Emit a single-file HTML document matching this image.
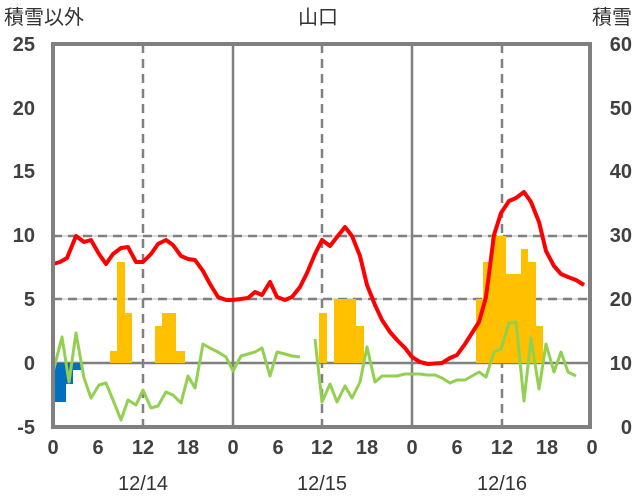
<!DOCTYPE html><html><head><meta charset="utf-8"><style>body{margin:0;background:#fff}svg{display:block}text{font-family:"Liberation Sans","Noto Sans CJK JP",sans-serif;fill:#333;font-size:20px}.n{font-weight:bold;fill:#404040}</style></head><body>
<svg width="636" height="501" xmlns="http://www.w3.org/2000/svg">
<rect width="636" height="501" fill="#fff"/>
<g stroke="#bbb" stroke-width="1"><line x1="53" y1="236" x2="590" y2="236"/><line x1="53" y1="299" x2="590" y2="299"/></g>
<g stroke="#808080" stroke-width="2.5" stroke-dasharray="9,6"><line x1="53" y1="236" x2="590" y2="236"/><line x1="53" y1="299" x2="590" y2="299"/><line x1="143" y1="44" x2="143" y2="427"/><line x1="322" y1="44" x2="322" y2="427"/><line x1="502" y1="44" x2="502" y2="427"/></g>
<g stroke="#808080" stroke-width="2.5"><line x1="233" y1="44" x2="233" y2="427"/><line x1="412" y1="44" x2="412" y2="427"/><line x1="53" y1="363" x2="590" y2="363"/></g>
<g fill="#FFC000">
<rect x="110" y="351" width="8" height="12"/><rect x="117" y="262" width="8" height="101"/><rect x="125" y="313" width="7" height="50"/>
<rect x="155" y="326" width="7" height="37"/><rect x="162" y="313" width="14" height="50"/><rect x="176" y="351" width="9" height="12"/>
<rect x="319" y="313" width="8" height="50"/><rect x="334" y="299" width="22" height="64"/><rect x="356" y="326" width="8" height="37"/>
<rect x="476" y="299" width="8" height="64"/><rect x="483" y="262" width="8" height="101"/><rect x="491" y="236" width="15" height="127"/><rect x="506" y="274" width="15" height="89"/><rect x="521" y="249" width="7" height="114"/><rect x="528" y="262" width="8" height="101"/><rect x="536" y="326" width="7" height="37"/>
</g>
<g fill="#0070C0"><rect x="54" y="363" width="12" height="39"/><rect x="66" y="363" width="7" height="21"/><rect x="73" y="363" width="8" height="7"/></g>
<polyline fill="none" stroke="#92D050" stroke-width="3" stroke-linejoin="round" points="53,372 62,337 69,382 76,333 84,378 91,398 99,385 106,383 113,400 121,420 128,400 136,405 143,390 151,408 158,406 166,392 173,395 181,403 188,376 195,388 203,344 210,348 218,352 226,357 233,371 241,356 248,354 255,352 262,348 270,376 277,352 285,354 292,356 300,357"/>
<polyline fill="none" stroke="#92D050" stroke-width="3" stroke-linejoin="round" points="315,339 322,402 330,384 337,402 345,386 352,398 360,382 367,347 375,382 382,376 390,376 397,376 405,374 412,374 420,374 427,375 435,375 442,378 450,383 457,380 465,380 472,376 479,372 486,377 494,352 501,349 509,323 516,322 524,401 531,338 539,389 546,344 554,372 561,352 568,372 576,376"/>
<polyline fill="none" stroke="#FF0000" stroke-width="4" stroke-linejoin="round" points="53,264 60,262 67,258 76,236 84,242 91,240 99,254 106,264 113,254 121,248 128,247 136,262 143,262 151,254 158,244 166,240 173,245 181,256 188,259 195,260 203,271 210,284 218,297 226,300 233,300 248,298 255,292 262,295 270,282 277,297 285,300 292,297 300,287 307,273 315,254 322,240 330,246 337,237 345,227 352,236 360,256 367,285 375,305 382,320 390,332 397,340 405,348 412,357 420,362 428,364 442,363 450,358 457,355 465,344 472,333 479,322 486,297 494,235 501,213 509,201 516,198 524,192 531,202 539,222 546,251 554,266 561,274 568,277 576,280 584,285"/>
<line x1="53" y1="427" x2="590" y2="427" stroke="#7030A0" stroke-width="3"/>
<rect x="53" y="44" width="537" height="383" fill="none" stroke="#808080" stroke-width="4"/>
<text x="4" y="24">積雪以外</text><text x="318" y="24" text-anchor="middle">山口</text><text x="632" y="24" text-anchor="end">積雪</text>
<g text-anchor="end" class="n"><text class="n" x="35" y="51">25</text><text class="n" x="35" y="115">20</text><text class="n" x="35" y="178">15</text><text class="n" x="35" y="242">10</text><text class="n" x="35" y="306">5</text><text class="n" x="35" y="370">0</text><text class="n" x="35" y="434">-5</text></g>
<g text-anchor="end"><text class="n" x="632" y="51">60</text><text class="n" x="632" y="115">50</text><text class="n" x="632" y="178">40</text><text class="n" x="632" y="242">30</text><text class="n" x="632" y="306">20</text><text class="n" x="632" y="370">10</text><text class="n" x="632" y="434">0</text></g>
<g text-anchor="middle"><text class="n" x="53" y="454">0</text><text class="n" x="98" y="454">6</text><text class="n" x="143" y="454">12</text><text class="n" x="188" y="454">18</text><text class="n" x="233" y="454">0</text><text class="n" x="278" y="454">6</text><text class="n" x="322" y="454">12</text><text class="n" x="367" y="454">18</text><text class="n" x="412" y="454">0</text><text class="n" x="457" y="454">6</text><text class="n" x="502" y="454">12</text><text class="n" x="547" y="454">18</text><text class="n" x="592" y="454">0</text>
<text x="143" y="490">12/14</text><text x="322" y="490">12/15</text><text x="502" y="490">12/16</text></g>
</svg></body></html>
